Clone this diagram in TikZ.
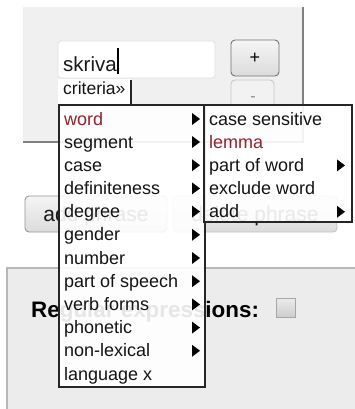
\documentclass[tikz,border=0pt]{standalone}
\usepackage{fontspec}
\setmainfont{Liberation Sans}
\definecolor{menured}{RGB}{145,35,45}
\definecolor{panelA}{RGB}{240,240,240}
\definecolor{panelB}{RGB}{236,236,236}
\definecolor{panelline}{RGB}{128,128,128}
\definecolor{lowline}{RGB}{184,184,184}
\definecolor{btnline}{RGB}{150,150,150}
\begin{document}
\begin{tikzpicture}[x=1pt,y=-1pt,
  item/.style={anchor=base west, inner sep=0pt, font=\fontsize{18}{20}\selectfont, text=black!92},
  hot/.style={item, text=menured},
  menubox/.style={fill=white, fill opacity=0.9, draw=black!85, line width=1.3pt},
  btn/.style={rounded corners=4pt, draw=btnline, line width=0.9pt, top color=white!96!black, bottom color=white!86!black},
  btntext/.style={inner sep=0pt, anchor=base, font=\fontsize{21}{24}\selectfont, text=black!90}
]
\useasboundingbox (0,0) rectangle (355,409);
\fill[white] (0,0) rectangle (355,409);

% top panel
\fill[panelA] (23,7) rectangle (303,142);
\draw[panelline, line width=1.1pt] (303,7) -- (303,142) -- (23,142);

% text field
\draw[fill=white, draw=black!12, rounded corners=3pt, line width=0.8pt] (58,41) rectangle (215,78);
\node[inner sep=0pt, anchor=base west, font=\fontsize{20.5}{24}\selectfont, text=black!90] (skriva) at (63,72) {skriva};
\coordinate (curtop) at (118,48);
\coordinate (curbot) at (118,74);
\draw[black, line width=1.2pt] (curtop) -- (curbot);

% + and - buttons
\draw[btn, draw=black!55] (231,40) rectangle (279,76);
\node[inner sep=0pt, font=\fontsize{18}{20}\selectfont] (plus) at (255,58) {+};
\draw[rounded corners=4pt, draw=black!22, fill=white!95!black, line width=0.9pt] (231,80) rectangle (274,130);
\node[inner sep=0pt, font=\fontsize{16}{20}\selectfont, text=black!45] (minus) at (253,99) {-};

% add / delete phrase buttons
\draw[btn] (25,196) rectangle (167,232);
\node[btntext] (addp) at (96,221) {add phrase};
\draw[btn, draw=black!25] (173,196) rectangle (337,232);
\node[btntext] (delp) at (255,221) {delete phrase};

% lower panel
\fill[panelB] (7,268) rectangle (356,410);
\draw[lowline, line width=1.8pt] (7,410) -- (7,268) -- (356,268);
\node[inner sep=0pt, anchor=base west, font=\bfseries\fontsize{22.4}{26}\selectfont, text=black] (regex) at (31,317) {Regular expressions:};
\draw[draw=black!35, line width=1.6pt, top color=white!92!black, bottom color=white!80!black] (276.5,298.5) rectangle (295.5,317.5);

% criteria tab
\fill[white] (58,79) rectangle (131,105);
\draw[black!85, line width=1.3pt] (131,80) -- (131,105);
\node[inner sep=0pt, anchor=base west, font=\fontsize{17.5}{20}\selectfont, text=black!92] (crit) at (63,95) {criteria»};

% main menu
\draw[menubox] (59,105) rectangle (205,387);
\foreach \t [count=\i from 0] in {segment,case,definiteness,degree,gender,number,part of speech,verb forms,phonetic,non-lexical}{
  \pgfmathsetmacro{\yy}{148+23.2*\i}
  \node[item] (m\i) at (64,\yy) {\t};
  \fill[black] (192,\yy) -- ++(8,-6) -- ++(-8,-6) -- cycle;
}
\node[hot] (mword) at (64,125) {word};
\fill[black] (192,125) -- ++(8,-6) -- ++(-8,-6) -- cycle;
\node[item] (mlang) at (64,380) {language x};

% submenu
\draw[menubox] (204,105) rectangle (352,222);
\node[item] (s0) at (209,125) {case sensitive};
\node[hot]  (s1) at (209,148) {lemma};
\node[item] (s2) at (209,171.4) {part of word};
\fill[black] (337,171.4) -- ++(8,-6) -- ++(-8,-6) -- cycle;
\node[item] (s3) at (209,194.6) {exclude word};
\node[item] (s4) at (209,217.8) {add};
\fill[black] (337,217.8) -- ++(8,-6) -- ++(-8,-6) -- cycle;
\end{tikzpicture}
\end{document}
